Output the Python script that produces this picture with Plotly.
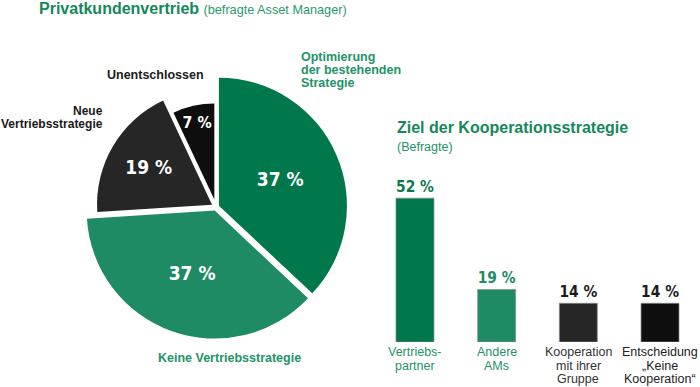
import plotly.graph_objects as go

# ---------------- data ----------------
pie_labels = ["Optimierung der bestehenden Strategie", "Keine Vertriebsstrategie",
              "Neue Vertriebsstrategie", "Unentschlossen"]
pie_values = [37, 37, 19, 7]
pie_label_lines = [["Optimierung", "der bestehenden", "Strategie"],
                   ["Keine Vertriebsstrategie"],
                   ["Neue", "Vertriebsstrategie"],
                   ["Unentschlossen"]]

bar_categories = ["Vertriebspartner", "Andere AMs", "Kooperation mit ihrer Gruppe",
                  "Entscheidung „Keine Kooperation“"]
bar_values = [52, 19, 14, 14]
bar_label_lines = [["Vertriebs-", "partner"], ["Andere", "AMs"],
                   ["Kooperation", "mit ihrer", "Gruppe"],
                   ["Entscheidung", "„Keine", "Kooperation“"]]

# ---------------- style ----------------
W, H = 700, 387
C_DKGREEN = "#00784c"
C_MDGREEN = "#1f8b65"
C_DKGRAY = "#262627"
C_BLACK = "#0e0e0e"
slice_colors = [C_DKGREEN, C_MDGREEN, C_DKGRAY, C_BLACK]
T_GREEN = "#14885a"
L_GREEN = "#23936a"
FONT = "Liberation Sans, Arial, sans-serif"
NUMFONT = "DejaVu Sans Condensed, DejaVu Sans, sans-serif"
TRANSP = "rgba(0,0,0,0)"

fig = go.Figure()

# pie: three layers so that the slices can have different radii
CX, CY = 216, 207
layers = [
    # (visible slice indices, radius px, pulls)
    ([0, 1], 128, [0.025, 0.03, 0, 0]),
    ([2], 115, [0, 0, 0.04, 0]),
    ([3], 96, [0, 0, 0, 0.08]),
]
for vis, r, pulls in layers:
    half = r * (1 + max(pulls))
    x0, x1 = (CX - half) / W, (CX + half) / W
    y0, y1 = 1 - (CY + half) / H, 1 - (CY - half) / H
    colors = [slice_colors[i] if i in vis else TRANSP for i in range(len(pie_values))]
    tmpl = ["%{value} %" if i in vis else "" for i in range(len(pie_values))]
    fig.add_trace(go.Pie(
        labels=pie_labels, values=pie_values, sort=False, direction="clockwise",
        rotation=0, pull=pulls, domain=dict(x=[x0, x1], y=[y0, y1]),
        marker=dict(colors=colors, line=dict(width=0)),
        texttemplate=tmpl, textposition="inside", insidetextorientation="horizontal",
        insidetextfont=dict(family=NUMFONT, size=19, color="white", weight="bold"),
        hoverinfo="skip", showlegend=False,
    ))

# bars
bar_text_colors = ["#0b7a4c", "#1e8c64", "#1c1c1c", "#1c1c1c"]
fig.add_trace(go.Bar(
    x=bar_categories, y=bar_values, width=0.465,
    marker=dict(color=slice_colors, line=dict(color="rgba(140,140,140,0.7)", width=1)),
    text=[f"{v} %" for v in bar_values], textposition="outside", cliponaxis=False,
    textfont=dict(family=NUMFONT, size=18, color=bar_text_colors, weight="bold"),
    hoverinfo="skip", showlegend=False, xaxis="x", yaxis="y",
))

fig.update_layout(
    width=W, height=H, margin=dict(l=0, r=0, t=0, b=0),
    paper_bgcolor="white", plot_bgcolor="white",
    xaxis=dict(domain=[382.3 / W, 692.7 / W], range=[-0.4, 3.4], showticklabels=False,
               showgrid=False, zeroline=False, showline=False, ticks=""),
    yaxis=dict(domain=[45 / H, 211 / H], range=[0, 60], visible=False),
    font=dict(family=FONT),
)


def ann(text, x, y, color, size, weight="normal", xanchor="left", xref="paper"):
    fig.add_annotation(text=text, x=x if xref == "x" else x / W, y=1 - y / H,
                       xref=xref, yref="paper", xanchor=xanchor, yanchor="middle",
                       showarrow=False,
                       font=dict(family=FONT, size=size, color=color, weight=weight))


def lines(txts, x, y, dy, color, size, weight, xanchor, xref="paper"):
    for k, t in enumerate(txts):
        ann(t, x, y + k * dy, color, size, weight, xanchor, xref)


# titles
fig.add_annotation(
    text="<b>Privatkundenvertrieb</b> <span style='font-size:12.7px;color:#2a9a6c'>(befragte Asset Manager)</span>",
    x=37 / W, y=1 - 8.5 / H, xref="paper", yref="paper", xanchor="left", yanchor="middle",
    showarrow=False, font=dict(family=FONT, size=16, color=T_GREEN))
ann("Ziel der Kooperationsstrategie", 395, 127, T_GREEN, 16, "bold")
ann("(Befragte)", 395, 146.5, L_GREEN, 12.5)

# pie outer labels
lines(pie_label_lines[0], 299, 56.5, 13.3, L_GREEN, 12.5, "bold", "left")
lines(pie_label_lines[1], 156, 357.5, 13.3, L_GREEN, 12.5, "bold", "left")
lines(pie_label_lines[2], 105, 111, 13.3, "#1a1a1a", 12, "bold", "right")
lines(pie_label_lines[3], 105, 75, 13.3, "#1a1a1a", 12.5, "bold", "left")

# bar category labels
cat_colors = [L_GREEN, L_GREEN, "#333333", "#222222"]
for cat, ls, col in zip(bar_categories, bar_label_lines, cat_colors):
    lines(ls, cat, 352, 13.5, col, 12.5, "normal", "center", xref="x")

fig.write_html("out.html", config={"displayModeBar": False},
               post_script="document.body.style.margin='0';document.body.style.overflow='hidden';")
